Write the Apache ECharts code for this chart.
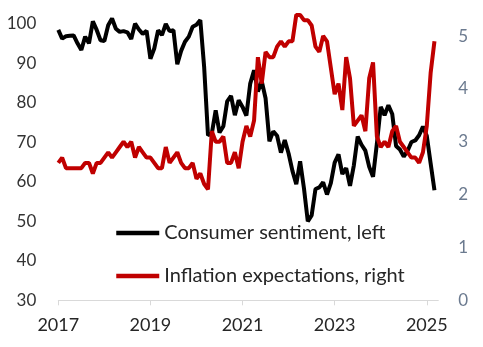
<!DOCTYPE html>
<html>
<head>
<meta charset="utf-8">
<script src="https://cdn.jsdelivr.net/npm/echarts@6/dist/echarts.min.js"></script>
<style>
html,body{margin:0;padding:0;background:#fff;}
#chart{width:483px;height:347px;}
</style>
</head>
<body>
<div id="chart"></div>
<script>
// Monthly categories Jan 2017 .. Apr 2025 (last slot empty, axis padding)
var startYear = 2017;
var months = [];
for (var i = 0; i < 100; i++) {
  var y = startYear + Math.floor(i / 12), m = (i % 12) + 1;
  months.push(y + '-' + (m < 10 ? '0' + m : m));
}
var tickYears = ['2017', '2019', '2021', '2023', '2025'];

// Consumer sentiment (left axis)
var sentiment = [
  98.5, 96.3, 96.9, 97.0, 97.1, 95.1, 93.4, 96.8, 95.1, 100.7, 98.5, 95.9,
  95.7, 99.7, 101.4, 98.8, 98.0, 98.2, 97.9, 96.2, 100.1, 98.6, 97.5, 98.3,
  91.2, 93.8, 98.4, 97.2, 100.0, 98.2, 98.4, 89.8, 93.2, 95.5, 96.8, 99.3,
  99.8, 101.0, 89.1, 71.8, 72.3, 78.1, 72.5, 74.1, 80.4, 81.8, 76.9, 80.7,
  79.0, 76.8, 84.9, 88.3, 82.9, 85.5, 81.2, 70.3, 72.8, 71.7, 67.4, 70.6,
  67.2, 62.8, 59.4, 65.2, 58.4, 50.0, 51.5, 58.2, 58.6, 59.9, 56.8, 59.7,
  64.9, 67.0, 62.0, 63.5, 59.0, 64.2, 71.5, 69.4, 67.9, 63.8, 61.3, 69.7,
  79.0, 76.9, 79.4, 77.2, 69.1, 68.2, 66.4, 67.9, 70.1, 70.5, 71.8, 74.0,
  71.7, 64.7, 57.9
];

// Inflation expectations (right axis)
var inflation = [
  2.6, 2.7, 2.5, 2.5, 2.5, 2.5, 2.5, 2.6, 2.6, 2.4, 2.6, 2.6,
  2.7, 2.8, 2.7, 2.8, 2.9, 3.0, 2.9, 3.0, 2.7, 2.9, 2.8, 2.7,
  2.7, 2.6, 2.5, 2.5, 2.9, 2.6, 2.7, 2.8, 2.6, 2.5, 2.5, 2.6,
  2.3, 2.4, 2.2, 2.1, 3.2, 3.0, 3.0, 3.1, 2.6, 2.6, 2.8, 2.5,
  3.0, 3.3, 3.1, 3.4, 4.6, 4.1, 4.7, 4.6, 4.6, 4.8, 4.9, 4.8,
  4.9, 4.9, 5.4, 5.4, 5.3, 5.3, 5.2, 4.8, 4.7, 5.0, 4.9, 4.4,
  3.9, 4.1, 3.6, 4.6, 4.2, 3.3, 3.4, 3.5, 3.2, 4.2, 4.5, 3.1,
  2.9, 3.0, 2.9, 3.2, 3.3, 3.0, 2.9, 2.8, 2.7, 2.7, 2.6, 2.8,
  3.3, 4.3, 4.9
];

var seriesNames = ['Consumer sentiment, left', 'Inflation expectations, right'];
var FONT = 'Lato';

function isYearTick(idx, val) {
  return tickYears.indexOf(String(val).slice(0, 4)) >= 0 && String(val).slice(5) === '01';
}

var chart = echarts.init(document.getElementById('chart'), null, {renderer: 'canvas'});
chart.setOption({
  animation: false,
  backgroundColor: '#ffffff',
  grid: {left: 58.3, right: 44.7, top: 9.6, bottom: 46.7, containLabel: false},
  legend: {
    orient: 'vertical',
    left: 114,
    top: 223,
    padding: 0,
    itemWidth: 43,
    itemHeight: 20,
    itemGap: 23,
    data: seriesNames,
    itemStyle: {opacity: 0},
    lineStyle: {width: 4.5},
    textStyle: {fontFamily: FONT, fontSize: 20, color: '#262626'}
  },
  xAxis: {
    type: 'category',
    data: months,
    boundaryGap: false,
    axisLine: {lineStyle: {color: '#d9d9d9', width: 1}},
    axisTick: {show: true, length: 5, interval: isYearTick, lineStyle: {color: '#d9d9d9'}},
    axisLabel: {
      interval: isYearTick,
      formatter: function (v) { return v.slice(0, 4); },
      fontFamily: FONT, fontSize: 18, color: '#262626', margin: 16
    },
    splitLine: {show: false}
  },
  yAxis: [
    {
      type: 'value', min: 30, max: 103.65, interval: 10,
      axisLine: {show: false}, axisTick: {show: false}, splitLine: {show: false},
      axisLabel: {
        showMaxLabel: false,
        formatter: function (v) { return v % 10 === 0 ? String(v) : ''; },
        fontFamily: FONT, fontSize: 17, color: '#333333', margin: 22
      }
    },
    {
      type: 'value', min: 0, max: 5.5, interval: 1, position: 'right',
      axisLine: {show: false}, axisTick: {show: false}, splitLine: {show: false},
      axisLabel: {
        showMaxLabel: false,
        formatter: function (v) { return Number.isInteger(v) ? String(v) : ''; },
        fontFamily: FONT, fontSize: 17, color: '#6b7a8f', margin: 20
      }
    }
  ],
  series: [
    {
      name: seriesNames[0], type: 'line', yAxisIndex: 0, data: sentiment,
      showSymbol: false, symbol: 'none',
      lineStyle: {color: '#000000', width: 4}, itemStyle: {color: '#000000'}
    },
    {
      name: seriesNames[1], type: 'line', yAxisIndex: 1, data: inflation,
      showSymbol: false, symbol: 'none',
      lineStyle: {color: '#c00000', width: 4}, itemStyle: {color: '#c00000'}
    }
  ]
});
</script>
</body>
</html>
